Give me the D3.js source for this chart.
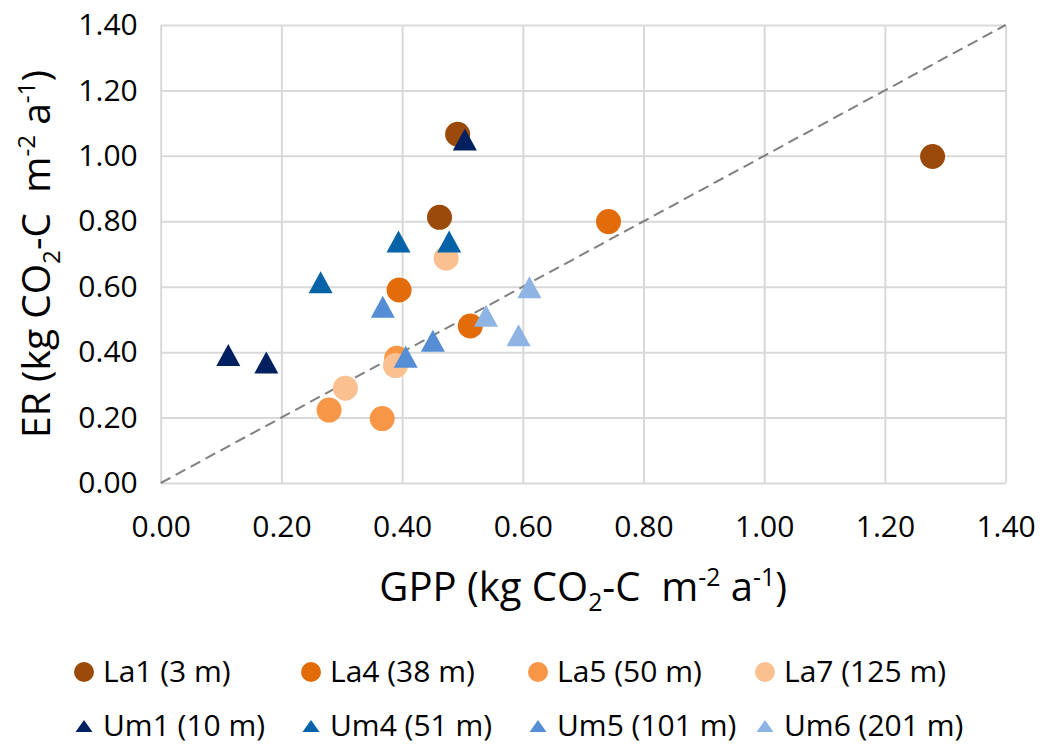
<!DOCTYPE html>
<html>
<head>
<meta charset="utf-8">
<script src="https://cdn.jsdelivr.net/npm/d3@7"></script>
<style>
  body { margin: 0; background: #fff; }
  svg { display: block; font-family: "Open Sans", sans-serif; }
</style>
</head>
<body>
<svg id="chart" width="1044" height="745"></svg>
<script>
// series names and colours (legend order = draw order)
const seriesNames = ["La1 (3 m)", "La4 (38 m)", "La5 (50 m)", "La7 (125 m)",
                     "Um1 (10 m)", "Um4 (51 m)", "Um5 (101 m)", "Um6 (201 m)"];
const seriesShapes = ["circle", "circle", "circle", "circle",
                      "triangle", "triangle", "triangle", "triangle"];
const seriesColors = ["#9C4A0B", "#E36C0A", "#F79646", "#FAC08F",
                      "#002060", "#0563A7", "#558ED5", "#8DB4E2"];

// GPP (x) and ER (y) values per series
const gppLa1 = [0.492, 0.462, 1.279];
const erLa1  = [1.066, 0.812, 0.998];
const gppLa4 = [0.395, 0.513, 0.742];
const erLa4  = [0.590, 0.480, 0.799];
const gppLa5 = [0.391, 0.279, 0.367];
const erLa5  = [0.381, 0.223, 0.197];
const gppLa7 = [0.473, 0.389, 0.306];
const erLa7  = [0.687, 0.359, 0.290];
const gppUm1 = [0.112, 0.175, 0.504];
const erUm1  = [0.391, 0.368, 1.050];
const gppUm4 = [0.265, 0.394, 0.478];
const erUm4  = [0.614, 0.738, 0.738];
const gppUm5 = [0.368, 0.451, 0.406];
const erUm5  = [0.539, 0.435, 0.386];
const gppUm6 = [0.539, 0.611, 0.593];
const erUm6  = [0.511, 0.598, 0.452];

const seriesX = [gppLa1, gppLa4, gppLa5, gppLa7, gppUm1, gppUm4, gppUm5, gppUm6];
const seriesY = [erLa1, erLa4, erLa5, erLa7, erUm1, erUm4, erUm5, erUm6];

const tickValues = [0, 0.2, 0.4, 0.6, 0.8, 1.0, 1.2, 1.4];
const oneToOne = [0, 1.4];

const svg = d3.select("#chart");
const plotLeft = 160.7, plotRight = 1005.6, plotTop = 25, plotBottom = 483;

const xScale = d3.scaleLinear().domain([0, 1.4]).range([plotLeft, plotRight]);
const yScale = d3.scaleLinear().domain([0, 1.4]).range([plotBottom, plotTop]);

// gridlines
svg.append("g")
    .attr("transform", "translate(0," + plotBottom + ")")
    .call(d3.axisBottom(xScale).tickValues(tickValues).tickSize(-(plotBottom - plotTop)).tickFormat(""))
    .call(g => g.select(".domain").remove())
    .selectAll("line").attr("stroke", "#d9d9d9").attr("stroke-width", 2);

svg.append("g")
    .attr("transform", "translate(" + plotLeft + ",0)")
    .call(d3.axisLeft(yScale).tickValues(tickValues).tickSize(-(plotRight - plotLeft)).tickFormat(""))
    .call(g => g.select(".domain").remove())
    .selectAll("line").attr("stroke", "#d9d9d9").attr("stroke-width", 2);

// tick labels
const xAxis = svg.append("g")
    .attr("transform", "translate(0," + plotBottom + ")")
    .call(d3.axisBottom(xScale).tickValues(tickValues).tickSize(0).tickPadding(33).tickFormat(d3.format(".2f")));
xAxis.select(".domain").remove();
xAxis.selectAll("text").attr("font-size", 30).attr("fill", "#000").attr("font-family", "Open Sans");

const yAxis = svg.append("g")
    .attr("transform", "translate(" + plotLeft + ",0)")
    .call(d3.axisLeft(yScale).tickValues(tickValues).tickSize(0).tickPadding(23).tickFormat(d3.format(".2f")));
yAxis.select(".domain").remove();
yAxis.selectAll("text").attr("font-size", 30).attr("fill", "#000").attr("font-family", "Open Sans");

// 1:1 line
svg.append("line")
    .attr("x1", xScale(oneToOne[0])).attr("y1", yScale(oneToOne[0]))
    .attr("x2", xScale(oneToOne[1])).attr("y2", yScale(oneToOne[1]))
    .attr("stroke", "#808080")
    .attr("stroke-width", 2)
    .attr("stroke-dasharray", "11,6");

// markers
function trianglePath(w, h) {
    return "M0," + (-h / 2) + "L" + (w / 2) + "," + (h / 2) + "L" + (-w / 2) + "," + (h / 2) + "Z";
}

seriesNames.forEach((name, i) => {
    const pts = seriesX[i].map((x, j) => ({ x: x, y: seriesY[i][j] }));
    if (seriesShapes[i] === "circle") {
        svg.append("g").selectAll("circle")
            .data(pts)
            .enter().append("circle")
            .attr("cx", d => xScale(d.x))
            .attr("cy", d => yScale(d.y))
            .attr("r", 12.5)
            .attr("fill", seriesColors[i]);
    } else {
        svg.append("g").selectAll("path")
            .data(pts)
            .enter().append("path")
            .attr("transform", d => "translate(" + xScale(d.x) + "," + yScale(d.y) + ")")
            .attr("d", trianglePath(24, 22))
            .attr("fill", seriesColors[i]);
    }
});

// axis titles with sub/superscripts
function unitTitle(sel, prefix) {
    sel.append("tspan").text(prefix + " (kg CO");
    sel.append("tspan").attr("dy", 10).attr("font-size", "0.62em").text("2");
    sel.append("tspan").attr("dy", -10).text("-C\u00a0\u00a0m");
    sel.append("tspan").attr("dy", -15).attr("font-size", "0.62em").text("-2");
    sel.append("tspan").attr("dy", 15).text(" a");
    sel.append("tspan").attr("dy", -15).attr("font-size", "0.62em").text("-1");
    sel.append("tspan").attr("dy", 15).text(")");
}

const xTitle = svg.append("text")
    .attr("x", (plotLeft + plotRight) / 2)
    .attr("y", 601)
    .attr("text-anchor", "middle")
    .attr("font-size", 40);
unitTitle(xTitle, "GPP");

const yTitle = svg.append("text")
    .attr("transform", "translate(50," + ((plotTop + plotBottom) / 2) + ") rotate(-90)")
    .attr("text-anchor", "middle")
    .attr("font-size", 39);
unitTitle(yTitle, "ER");

// legend
const legendX = [84, 311, 538, 765];
const legendY = [672, 726];
seriesNames.forEach((name, i) => {
    const lx = legendX[i % 4], ly = legendY[Math.floor(i / 4)];
    const g = svg.append("g").attr("transform", "translate(" + lx + "," + ly + ")");
    if (seriesShapes[i] === "circle") {
        g.append("circle").attr("r", 10).attr("fill", seriesColors[i]);
    } else {
        g.append("path").attr("d", trianglePath(17, 12)).attr("fill", seriesColors[i]);
    }
    g.append("text")
        .attr("x", 19)
        .attr("y", 10)
        .attr("font-size", 30)
        .text(name);
});
</script>
</body>
</html>
